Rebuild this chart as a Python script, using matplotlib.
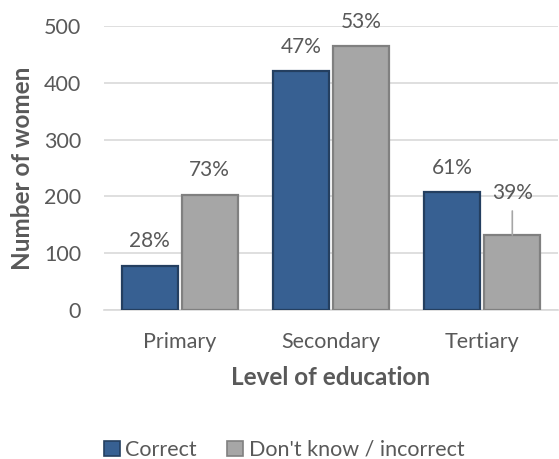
import matplotlib.pyplot as plt
import numpy as np
from matplotlib.patches import Patch

plt.rcParams['font.family'] = ['Lato', 'DejaVu Sans']

levels = ['Primary', 'Secondary', 'Tertiary']
correct = [78, 420, 207]
incorrect = [203, 465, 132]
correct_pct = ['28%', '47%', '61%']
incorrect_pct = ['73%', '53%', '39%']

blue = '#376092'
blue_edge = '#243F60'
grey = '#A6A6A6'
grey_edge = '#808080'
txt = '#595959'

fig = plt.figure(figsize=(5.59, 4.59), dpi=100)
ax = fig.add_axes([104 / 559, 1 - 310 / 459, 454 / 559, 284 / 459])

x = np.arange(len(levels))
w = 0.37
off = 0.198

ax.bar(x - off, correct, w, color=blue, edgecolor=blue_edge, linewidth=1.6, zorder=3)
ax.bar(x + off, incorrect, w, color=grey, edgecolor=grey_edge, linewidth=1.6, zorder=3)

for i in range(len(levels)):
    ax.annotate(correct_pct[i], (x[i] - off, correct[i]), xytext=(0, 17.5), textcoords='offset points',
                ha='center', va='center', fontsize=15, color=txt)
    if i == 2:
        # this one is pushed up with a leader line
        ax.annotate(incorrect_pct[i], (x[i] + off, incorrect[i]), xytext=(0, 30), textcoords='offset points',
                    ha='center', va='center', fontsize=15, color=txt,
                    arrowprops=dict(arrowstyle='-', color=grey, lw=1.2, shrinkA=3.5, shrinkB=0))
    else:
        ax.annotate(incorrect_pct[i], (x[i] + off, incorrect[i]), xytext=(0, 17.5), textcoords='offset points',
                    ha='center', va='center', fontsize=15, color=txt)

ax.set_xlim(-0.5, 2.5)
ax.set_ylim(0, 500)
ax.set_yticks(range(0, 501, 100))
ax.set_xticks(x)
ax.set_xticklabels(levels)
ax.grid(axis='y', color='#D9D9D9', linewidth=1.2, zorder=0)
ax.tick_params(length=0, labelsize=15.5, colors=txt)
ax.tick_params(axis='x', pad=16)
ax.tick_params(axis='y', pad=16.5)
for s in ['top', 'right', 'left']:
    ax.spines[s].set_visible(False)
ax.spines['bottom'].set_color('#D9D9D9')
ax.spines['bottom'].set_linewidth(1.2)

ax.set_xlabel('Level of education', fontsize=17.5, fontweight='bold', color=txt, labelpad=10)
ax.set_ylabel('Number of women', fontsize=17.5, fontweight='bold', color=txt, labelpad=7)

handles = [Patch(facecolor=blue, edgecolor=blue_edge, linewidth=1.2, label='Correct'),
           Patch(facecolor=grey, edgecolor=grey_edge, linewidth=1.2, label="Don't know / incorrect")]
fig.legend(handles=handles, loc='center', bbox_to_anchor=(0.508, 1 - 450 / 459), ncol=2, frameon=False,
           fontsize=15.5, handlelength=0.75, handleheight=0.75, handletextpad=0.25, columnspacing=1.4,
           labelcolor=txt)

fig.savefig('out.png', dpi=100)
